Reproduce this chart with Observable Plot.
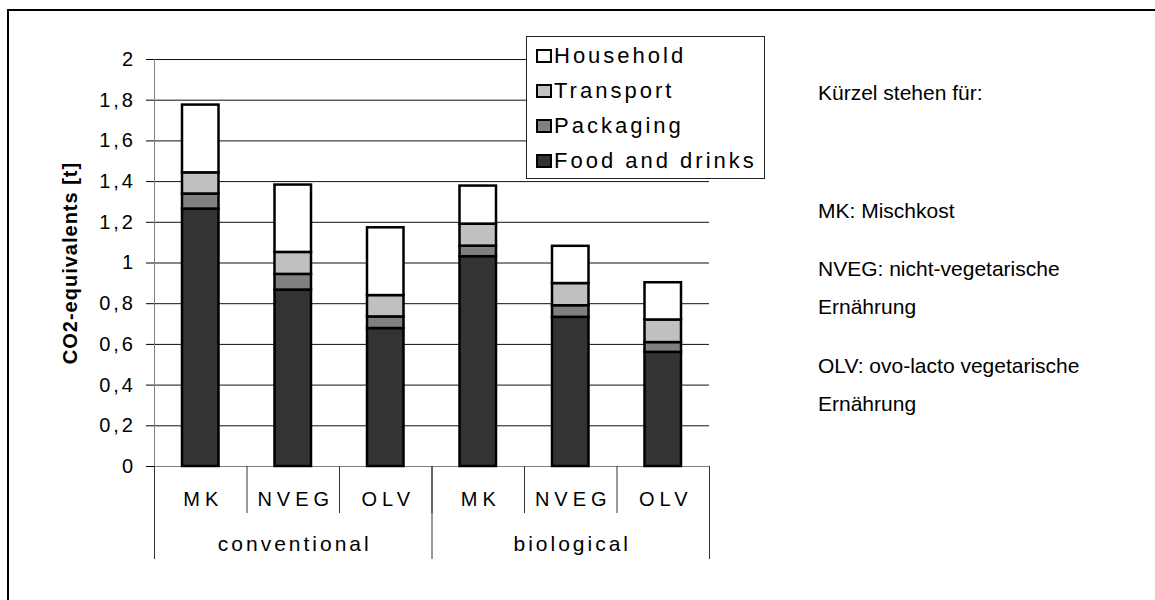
<!DOCTYPE html>
<html>
<head>
<meta charset="utf-8">
<script src="https://cdn.jsdelivr.net/npm/d3@7"></script>
<script src="https://cdn.jsdelivr.net/npm/@observablehq/plot@0.6"></script>
<style>
  body { margin: 0; background: #fff; }
  #wrap { position: relative; width: 1155px; height: 600px; overflow: hidden; background: #fff;
          font-family: "Liberation Sans", Arial, sans-serif; color: #000; }
  #wrap svg { position: absolute; left: 0; top: 0; }
  #border { position: absolute; left: 7px; top: 9px; width: 1300px; height: 800px;
            border: 2px solid #000; pointer-events: none; }
  #legend { position: absolute; left: 526px; top: 36px; width: 239px; height: 143px;
            box-sizing: border-box; border: 1px solid #222; background: #fff; }
  .sw { position: absolute; left: 9px; width: 16px; height: 14px; box-sizing: border-box;
        border: 2.5px solid #000; }
  .lt { position: absolute; left: 27px; font-size: 22px; line-height: 22px; letter-spacing: 3px;
        white-space: nowrap; }
  g[aria-label="y-axis tick label"] text { letter-spacing: 3px; }
</style>
</head>
<body>
<div id="wrap"></div>
<script>
// ---- data ----
const groups = ["conventional", "biological"];
const diets = ["MK", "NVEG", "OLV"];
const components = ["Food and drinks", "Packaging", "Transport", "Household"];
const componentColors = ["#333333", "#808080", "#c0c0c0", "#ffffff"];
// order: conventional MK, NVEG, OLV, biological MK, NVEG, OLV
const food      = [1.265, 0.867, 0.678, 1.031, 0.733, 0.561];
const packaging = [0.074, 0.077, 0.057, 0.052, 0.057, 0.048];
const transport = [0.104, 0.108, 0.105, 0.108, 0.109, 0.111];
const household = [0.333, 0.331, 0.333, 0.187, 0.183, 0.183];
const yTicks = [0, 0.2, 0.4, 0.6, 0.8, 1, 1.2, 1.4, 1.6, 1.8, 2];
const yTickLabels = ["0", "0,2", "0,4", "0,6", "0,8", "1", "1,2", "1,4", "1,6", "1,8", "2"];
const yTitle = "CO2-equivalents [t]";
const notes = ["Kürzel stehen für:", "MK: Mischkost", "NVEG: nicht-vegetarische", "Ernährung",
               "OLV: ovo-lacto vegetarische", "Ernährung"];

// ---- derived tables ----
const series = [food, packaging, transport, household];
const categories = groups.flatMap(g => diets.map(d => ({group: g, diet: d})));
categories.forEach((c, i) => c.i = i);
const segments = [];
categories.forEach((c, i) => {
  let base = 0;
  components.forEach((comp, k) => {
    const v = series[k][i];
    segments.push({i, component: comp, y1: base, y2: base + v});
    base += v;
  });
});
const edges = d3.range(categories.length + 1);
const groupEdges = d3.range(0, categories.length + 1, diets.length);

// layout (pixels)
const noteBaselines = [99, 217, 275, 313, 372, 410];
const marginLeft = 154, marginTop = 59;

const plot = Plot.plot({
  width: 1155,
  height: 600,
  marginLeft,
  marginRight: 446,
  marginTop,
  marginBottom: 134,
  style: {fontFamily: '"Liberation Sans", Arial, sans-serif', fontSize: "20px", background: "transparent", color: "#000"},
  x: {domain: [0, categories.length], axis: null},
  y: {domain: [0, 2]},
  color: {domain: components, range: componentColors},
  marks: [
    Plot.ruleY(yTicks.filter(t => t > 0), {stroke: "#111", strokeWidth: 1}),
    Plot.ruleY([0], {stroke: "#808080", strokeWidth: 1}),
    Plot.ruleX([0], {stroke: "#808080", strokeWidth: 1}),
    Plot.axisY({ticks: yTicks, tickFormat: d => yTickLabels[yTicks.indexOf(d)], tickSize: 8,
                tickPadding: 10.5, fontSize: 20, label: null}),
    Plot.ruleX(edges, {x: d => d, y1: 0, y2: 0, insetBottom: -47, stroke: "#333"}),
    Plot.ruleX(groupEdges, {x: d => d, y1: 0, y2: 0, insetBottom: -93, stroke: "#333"}),
    Plot.rect(segments, {x1: d => d.i, x2: d => d.i + 1, y1: "y1", y2: "y2", fill: "component",
                         stroke: "#000", strokeWidth: 2.5, insetLeft: 28, insetRight: 28}),
    Plot.text(categories, {x: d => d.i + 0.5, y: 0, text: "diet", dy: 39.5, dx: 2.5,
                           lineAnchor: "bottom", fontSize: 20}),
    Plot.text(groups, {x: (d, gi) => gi * diets.length + diets.length / 2, y: 0, text: d => d,
                       dy: 84.5, dx: 1.5, lineAnchor: "bottom", fontSize: 21}),
    Plot.text([yTitle], {frameAnchor: "left", text: d => d, rotate: -90, dx: -78, lineAnchor: "bottom",
                         textAnchor: "middle", fontSize: 20, fontWeight: "bold"}),
    ...notes.map((t, k) => Plot.text([t], {frameAnchor: "top-left", text: d => d, textAnchor: "start",
                         lineAnchor: "bottom", dx: 817.5 - marginLeft, dy: noteBaselines[k] - marginTop,
                         fontSize: 21}))
  ]
});

// letter spacing of the stretched Excel-like labels
const spacing = new Map([...diets.map(d => [d, "5px"]), ...groups.map(g => [g, "3px"]), [yTitle, "1px"]]);
d3.select(plot).selectAll("text").each(function () {
  const t = this.textContent;
  if (spacing.has(t)) this.style.letterSpacing = spacing.get(t);
});

const wrap = document.getElementById("wrap");
wrap.appendChild(plot);

// legend (reverse order, as in the reference)
const legend = document.createElement("div");
legend.id = "legend";
components.slice().reverse().forEach((comp, k) => {
  const ci = components.indexOf(comp);
  const sw = document.createElement("div");
  sw.className = "sw";
  sw.style.top = (11.5 + k * 35) + "px";
  sw.style.background = componentColors[ci];
  const lt = document.createElement("div");
  lt.className = "lt";
  lt.style.top = (7.5 + k * 35) + "px";
  lt.textContent = comp;
  legend.appendChild(sw);
  legend.appendChild(lt);
});
wrap.appendChild(legend);

const border = document.createElement("div");
border.id = "border";
wrap.appendChild(border);
</script>
</body>
</html>
